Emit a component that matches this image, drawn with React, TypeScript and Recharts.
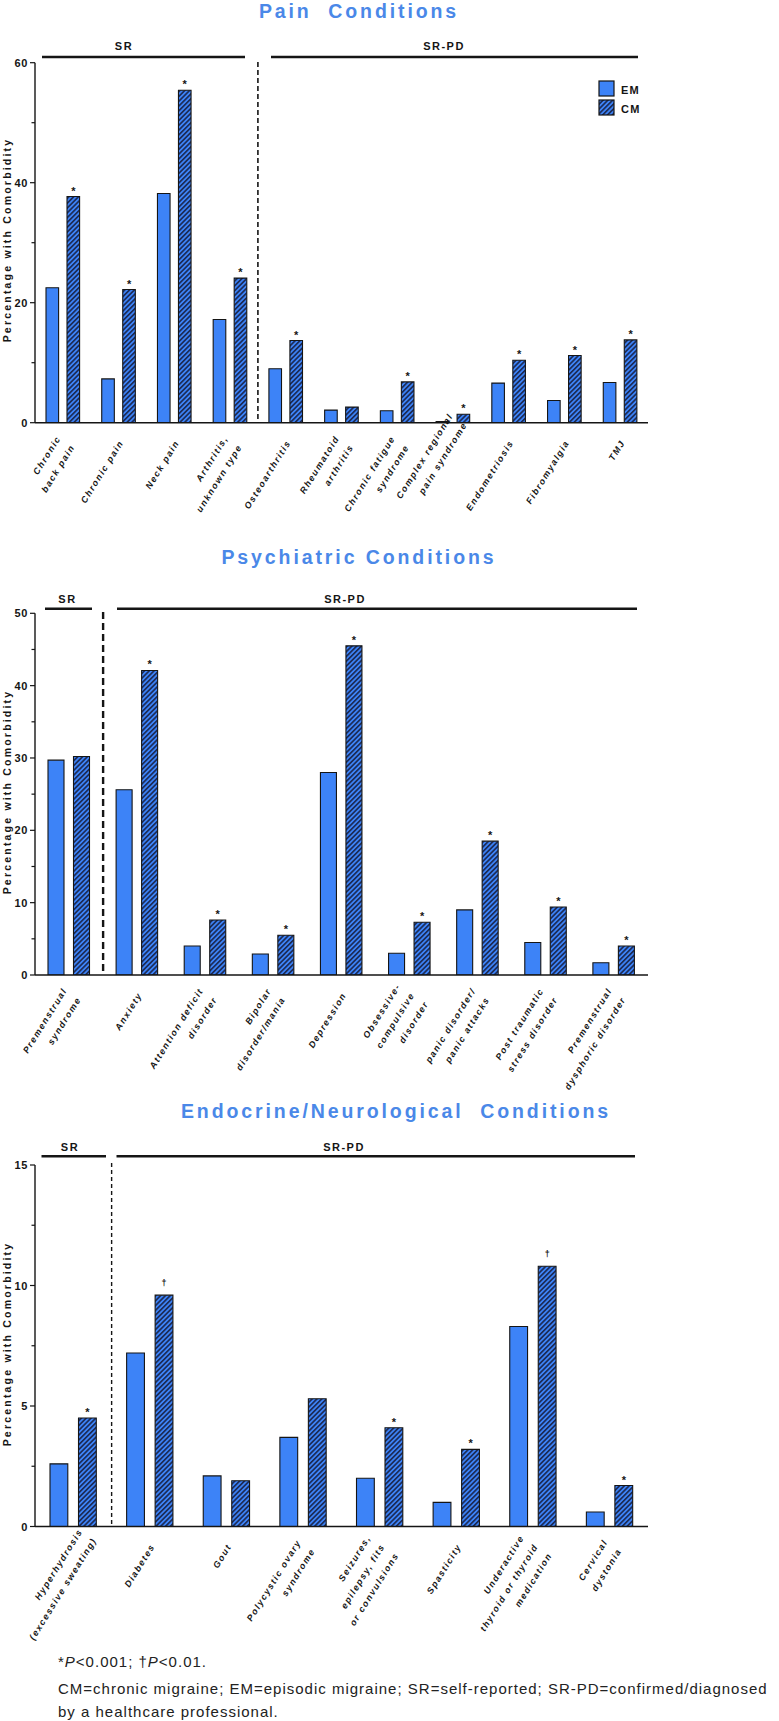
import React from "react"
import { BarChart, Bar, XAxis, YAxis, LabelList, Legend } from "recharts"

const FONT = "'Liberation Sans', Arial, Helvetica, sans-serif"
const EM_BLUE = "#3D83F7"
const TITLE_BLUE = "#4A88E8"
const INK = "#151515"

// ---- Pain conditions
const painCategories = [
  "Chronic\nback pain",
  "Chronic pain",
  "Neck pain",
  "Arthritis,\nunknown type",
  "Osteoarthritis",
  "Rheumatoid\narthritis",
  "Chronic fatigue\nsyndrome",
  "Complex regional\npain syndrome",
  "Endometriosis",
  "Fibromyalgia",
  "TMJ",
]
const painEM = [22.5, 7.3, 38.2, 17.2, 9.0, 2.1, 2.0, 0.2, 6.6, 3.7, 6.7]
const painCM = [37.7, 22.2, 55.4, 24.1, 13.7, 2.6, 6.8, 1.4, 10.4, 11.2, 13.8]
const painMarks = ["*", "*", "*", "*", "*", "", "*", "*", "*", "*", "*"]
const painTicks = [0, 10, 20, 30, 40, 50, 60]
const painTickLabels = [0, 20, 40, 60]

// ---- Psychiatric conditions
const psychCategories = [
  "Premenstrual\nsyndrome",
  "Anxiety",
  "Attention deficit\ndisorder",
  "Bipolar\ndisorder/mania",
  "Depression",
  "Obsessive-\ncompulsive\ndisorder",
  "panic disorder/\npanic attacks",
  "Post traumatic\nstress disorder",
  "Premenstrual\ndysphoric disorder",
]
const psychEM = [29.7, 25.6, 4.0, 2.9, 28.0, 3.0, 9.0, 4.5, 1.7]
const psychCM = [30.2, 42.1, 7.6, 5.5, 45.5, 7.3, 18.5, 9.4, 4.0]
const psychMarks = ["", "*", "*", "*", "*", "*", "*", "*", "*"]
const psychTicks = [0, 5, 10, 15, 20, 25, 30, 35, 40, 45, 50]
const psychTickLabels = [0, 10, 20, 30, 40, 50]

// ---- Endocrine / neurological conditions
const endoCategories = [
  "Hyperhydrosis\n(excessive sweating)",
  "Diabetes",
  "Gout",
  "Polycystic ovary\nsyndrome",
  "Seizures,\nepilepsy, fits\nor convulsions",
  "Spasticity",
  "Underactive\nthyroid or thyroid\nmedication",
  "Cervical\ndystonia",
]
const endoEM = [2.6, 7.2, 2.1, 3.7, 2.0, 1.0, 8.3, 0.6]
const endoCM = [4.5, 9.6, 1.9, 5.3, 4.1, 3.2, 10.8, 1.7]
const endoMarks = ["*", "†", "", "", "*", "*", "†", "*"]
const endoTicks = [0, 2.5, 5, 7.5, 10, 12.5, 15]
const endoTickLabels = [0, 5, 10, 15]

const PLOT_LEFT = 35
const PLOT_RIGHT = 648

const toRows = (cats: string[], em: number[], cm: number[], marks: string[]) =>
  cats.map((name, i) => ({ name, em: em[i], cm: cm[i], mark: marks[i] }))

type Shift = { dx: number; dy: number }

const XTick = ({ x, y, payload, shifts }: any) => {
  const lines = String(payload.value).split("\n")
  const s: Shift = (shifts && shifts[payload.index]) || { dx: 0, dy: 0 }
  return (
    <g transform={`translate(${x},${y}) rotate(-58)`}>
      <text
        textAnchor="end"
        fontSize={9}
        fontWeight="bold"
        fontStyle="italic"
        letterSpacing={1.45}
        fontFamily={FONT}
        fill={INK}
      >
        {lines.map((l, i) => (
          <tspan key={i} x={-14 + s.dx} y={15 + s.dy + (i - (lines.length - 1) / 2) * 16.5}>
            {l}
          </tspan>
        ))}
      </text>
    </g>
  )
}

const makeYTick = (labelled: number[]) => (props: any) => {
  const { x, y, payload } = props
  const major = labelled.includes(payload.value)
  return (
    <g>
      <line x1={x - (major ? 5 : 3.5)} x2={x} y1={y} y2={y} stroke={INK} strokeWidth={1.2} />
      {major && (
        <text
          x={x - 7}
          y={y + 4}
          textAnchor="end"
          fontSize={11}
          fontWeight="bold"
          letterSpacing={0.6}
          fontFamily={FONT}
          fill={INK}
        >
          {payload.value}
        </text>
      )}
    </g>
  )
}

const MarkLabel = (props: any) => {
  const { x, y, width, value } = props
  if (!value) return null
  const dagger = value === "†"
  return (
    <text
      x={x + width / 2}
      y={y - (dagger ? 9 : 2)}
      textAnchor="middle"
      fontSize={dagger ? 9 : 11}
      fontWeight="bold"
      fontFamily={FONT}
      fill={INK}
    >
      {value}
    </text>
  )
}

const LegendBox = () => (
  <svg width={50} height={40} style={{ display: "block" }}>
    <rect x={1} y={1} width={15} height={15} fill={EM_BLUE} stroke={INK} strokeWidth={1.2} />
    <text x={23} y={13.5} fontSize={11} fontWeight="bold" letterSpacing={1.2} fontFamily={FONT} fill={INK}>
      EM
    </text>
    <rect x={1} y={20} width={15} height={15} fill="url(#cmHatch)" stroke={INK} strokeWidth={1.2} />
    <text x={23} y={32.5} fontSize={11} fontWeight="bold" letterSpacing={1.2} fontFamily={FONT} fill={INK}>
      CM
    </text>
  </svg>
)

type PanelProps = {
  rows: any[]
  top: number
  height: number
  plotTop: number
  plotBottom: number
  max: number
  ticks: number[]
  tickLabels: number[]
  barSize: number
  barGap: number
  legend?: boolean
  shifts?: Record<number, Shift>
}

function Panel(p: PanelProps) {
  return (
    <div style={{ position: "absolute", left: 0, top: p.top }}>
      <BarChart
        width={779}
        height={p.height}
        data={p.rows}
        margin={{ top: p.plotTop - p.top, right: 779 - PLOT_RIGHT, bottom: 0, left: 0 }}
        barGap={p.barGap}
      >
        <XAxis
          dataKey="name"
          interval={0}
          height={p.top + p.height - p.plotBottom}
          tickLine={false}
          tickSize={0}
          tickMargin={0}
          axisLine={{ stroke: INK, strokeWidth: 1.6 }}
          tick={(t: any) => <XTick {...t} shifts={p.shifts} />}
        />
        <YAxis
          width={PLOT_LEFT}
          domain={[0, p.max]}
          ticks={p.ticks}
          interval={0}
          tickLine={false}
          tickSize={0}
          tickMargin={0}
          axisLine={{ stroke: INK, strokeWidth: 1.4 }}
          tick={makeYTick(p.tickLabels)}
          allowDataOverflow
        />
        <Bar dataKey="em" name="EM" fill={EM_BLUE} stroke={INK} strokeWidth={1.1} barSize={p.barSize} isAnimationActive={false} />
        <Bar dataKey="cm" name="CM" fill="url(#cmHatch)" stroke={INK} strokeWidth={1.1} barSize={p.barSize} isAnimationActive={false}>
          <LabelList dataKey="mark" content={MarkLabel} />
        </Bar>
        {p.legend && (
          <Legend
            layout="vertical"
            align="center"
            verticalAlign="middle"
            content={LegendBox}
            wrapperStyle={{ top: 80, left: 598, width: 50, height: 40 }}
          />
        )}
      </BarChart>
    </div>
  )
}

type Header = {
  title: string
  titleX: number
  titleY: number
  srX: number
  srY: number
  srLine: [number, number, number]
  pdX: number
  pdLine: [number, number, number]
  yLabelY: number
  dashX: number
  dashY: [number, number]
  dashW: number
  dash: string
}

const bandX = (n: number, i: number) => PLOT_LEFT + ((PLOT_RIGHT - PLOT_LEFT) / n) * i

const headers: Header[] = [
  {
    title: "Pain  Conditions",
    titleX: 359, titleY: 18,
    srX: 124, srY: 50, srLine: [42, 245, 57],
    pdX: 444, pdLine: [271, 638, 57],
    yLabelY: 240,
    dashX: bandX(painCategories.length, 4), dashY: [62, 422.7], dashW: 1.6, dash: "5 3",
  },
  {
    title: "Psychiatric Conditions",
    titleX: 359, titleY: 564,
    srX: 67.5, srY: 603, srLine: [45, 92, 608.7],
    pdX: 345, pdLine: [117, 637, 608.7],
    yLabelY: 792,
    dashX: bandX(psychCategories.length, 1), dashY: [612, 975], dashW: 2.4, dash: "7 4",
  },
  {
    title: "Endocrine/Neurological  Conditions",
    titleX: 396, titleY: 1118,
    srX: 70, srY: 1151, srLine: [41.5, 106, 1156.3],
    pdX: 344, pdLine: [116.5, 635, 1156.3],
    yLabelY: 1344,
    dashX: bandX(endoCategories.length, 1), dashY: [1163, 1526.5], dashW: 1.4, dash: "4 3",
  },
]

const boldText = { fontFamily: FONT, fontWeight: "bold" as const, fill: INK }

export default function App() {
  return (
    <div style={{ position: "absolute", left: 0, top: 0, width: 779, height: 1721, background: "#fff", overflow: "hidden" }}>
      <svg width={0} height={0} style={{ position: "absolute" }}>
        <defs>
          <pattern id="cmHatch" patternUnits="userSpaceOnUse" width={3.4} height={3.4} patternTransform="rotate(45)">
            <rect width={3.4} height={3.4} fill={EM_BLUE} />
            <line x1={0.8} y1={0} x2={0.8} y2={3.4} stroke="#1B2A55" strokeWidth={1.7} />
          </pattern>
        </defs>
      </svg>

      <Panel
        rows={toRows(painCategories, painEM, painCM, painMarks)}
        top={0} height={580} plotTop={62.7} plotBottom={422.7}
        max={60} ticks={painTicks} tickLabels={painTickLabels}
        barSize={12.6} barGap={8.4} legend shifts={{ 7: { dx: 20, dy: -10 } }}
      />
      <Panel
        rows={toRows(psychCategories, psychEM, psychCM, psychMarks)}
        top={540} height={600} plotTop={613.3} plotBottom={975}
        max={50} ticks={psychTicks} tickLabels={psychTickLabels}
        barSize={16} barGap={9.5}
      />
      <Panel
        rows={toRows(endoCategories, endoEM, endoCM, endoMarks)}
        top={1080} height={600} plotTop={1165} plotBottom={1526.5}
        max={15} ticks={endoTicks} tickLabels={endoTickLabels}
        barSize={17.8} barGap={10.7} shifts={{ 0: { dx: 15, dy: 4 } }}
      />

      <svg width={779} height={1721} style={{ position: "absolute", left: 0, top: 0, pointerEvents: "none" }}>
        {headers.map((h, i) => (
          <g key={i}>
            <text x={h.titleX} y={h.titleY} textAnchor="middle" fontSize={19.5} fontWeight="bold" letterSpacing={2.9} fontFamily={FONT} fill={TITLE_BLUE} style={{ whiteSpace: "pre" }}>
              {h.title}
            </text>
            <text x={h.srX} y={h.srY} textAnchor="middle" fontSize={11} letterSpacing={1.5} {...boldText}>SR</text>
            <line x1={h.srLine[0]} x2={h.srLine[1]} y1={h.srLine[2]} y2={h.srLine[2]} stroke={INK} strokeWidth={2.6} />
            <text x={h.pdX} y={h.srY} textAnchor="middle" fontSize={11} letterSpacing={1.5} {...boldText}>SR-PD</text>
            <line x1={h.pdLine[0]} x2={h.pdLine[1]} y1={h.pdLine[2]} y2={h.pdLine[2]} stroke={INK} strokeWidth={2.6} />
            <line x1={h.dashX} x2={h.dashX} y1={h.dashY[0]} y2={h.dashY[1]} stroke={INK} strokeWidth={h.dashW} strokeDasharray={h.dash} />
            <text transform={`translate(11,${h.yLabelY}) rotate(-90)`} textAnchor="middle" fontSize={10.5} letterSpacing={2.2} {...boldText}>
              Percentage with Comorbidity
            </text>
          </g>
        ))}
        <g fontFamily={FONT} fontSize={15} letterSpacing={1.0} fill="#222">
          <text x={58} y={1667}>
            *<tspan fontStyle="italic">P</tspan>{"<0.001; †"}<tspan fontStyle="italic">P</tspan>{"<0.01."}
          </text>
          <text x={58} y={1694}>CM=chronic migraine; EM=episodic migraine; SR=self-reported; SR-PD=confirmed/diagnosed</text>
          <text x={58} y={1717}>by a healthcare professional.</text>
        </g>
      </svg>
    </div>
  )
}
